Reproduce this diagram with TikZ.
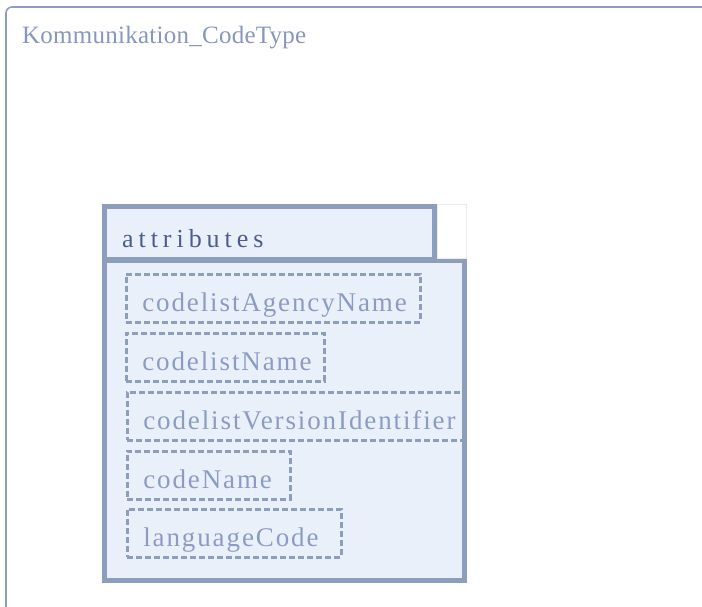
\documentclass[tikz,border=0pt]{standalone}
\usepackage{fontspec}
\setmainfont{Liberation Serif}
\newfontfamily\titlefont[LetterSpace=1]{Liberation Serif}
\newfontfamily\headfont[LetterSpace=19]{Liberation Serif}
\newfontfamily\itemfont[LetterSpace=7]{Liberation Serif}
\definecolor{frameblue}{HTML}{8D9DBC}
\definecolor{fillblue}{HTML}{EAF0FA}
\definecolor{titletext}{HTML}{8796BE}
\definecolor{headtext}{HTML}{4D5C8E}
\definecolor{itemtext}{HTML}{8C9BC2}
\tikzset{
  itembox/.style={draw=frameblue, line width=2.6pt, dash pattern=on 6pt off 3pt,
    anchor=north west, minimum height=48pt, inner ysep=0pt, inner xsep=16pt,
    text height=26pt, text depth=0pt, align=left, text=itemtext,
    font=\fontsize{27}{27}\itemfont},
  thickframe/.style={draw=frameblue, line width=5pt, fill=fillblue},
}
\begin{document}
\begin{tikzpicture}[x=1pt,y=-1pt]
\useasboundingbox (0,0) rectangle (702,606);
\begin{scope}
\clip (0,0) rectangle (702,606);
\draw[frameblue, line width=1.6pt, rounded corners=6pt] (6,620) -- (6,7) -- (720,7);
\end{scope}
\node[anchor=base west, inner sep=0pt, text=titletext, font=\fontsize{25}{25}\titlefont] (title) at (22,43) {Kommunikation\_CodeType};
% attributes compartment
\draw[thickframe] (104.5,260.5) rectangle (464.5,580.5);
\draw[fill=white, draw=black!8, line width=0.8pt] (437,204.4) rectangle (466,258);
\draw[thickframe] (104.5,206.5) rectangle (434.5,259.5);
\node[anchor=base west, inner sep=0pt, text=headtext, font=\fontsize{26}{26}\headfont] (attr) at (122,247) {attributes};
\node[itembox, text width=262pt] (a1) at (125,273) {codelistAgencyName};
\node[itembox, text width=166pt] (a2) at (125,332) {codelistName};
\node[itembox, text width=304pt] (a3) at (126,391) {codelistVersionIdentifier};
\node[itembox, text width=131pt] (a4) at (126,450) {codeName};
\node[itembox, text width=182pt] (a5) at (126,508) {languageCode};
\end{tikzpicture}
\end{document}
